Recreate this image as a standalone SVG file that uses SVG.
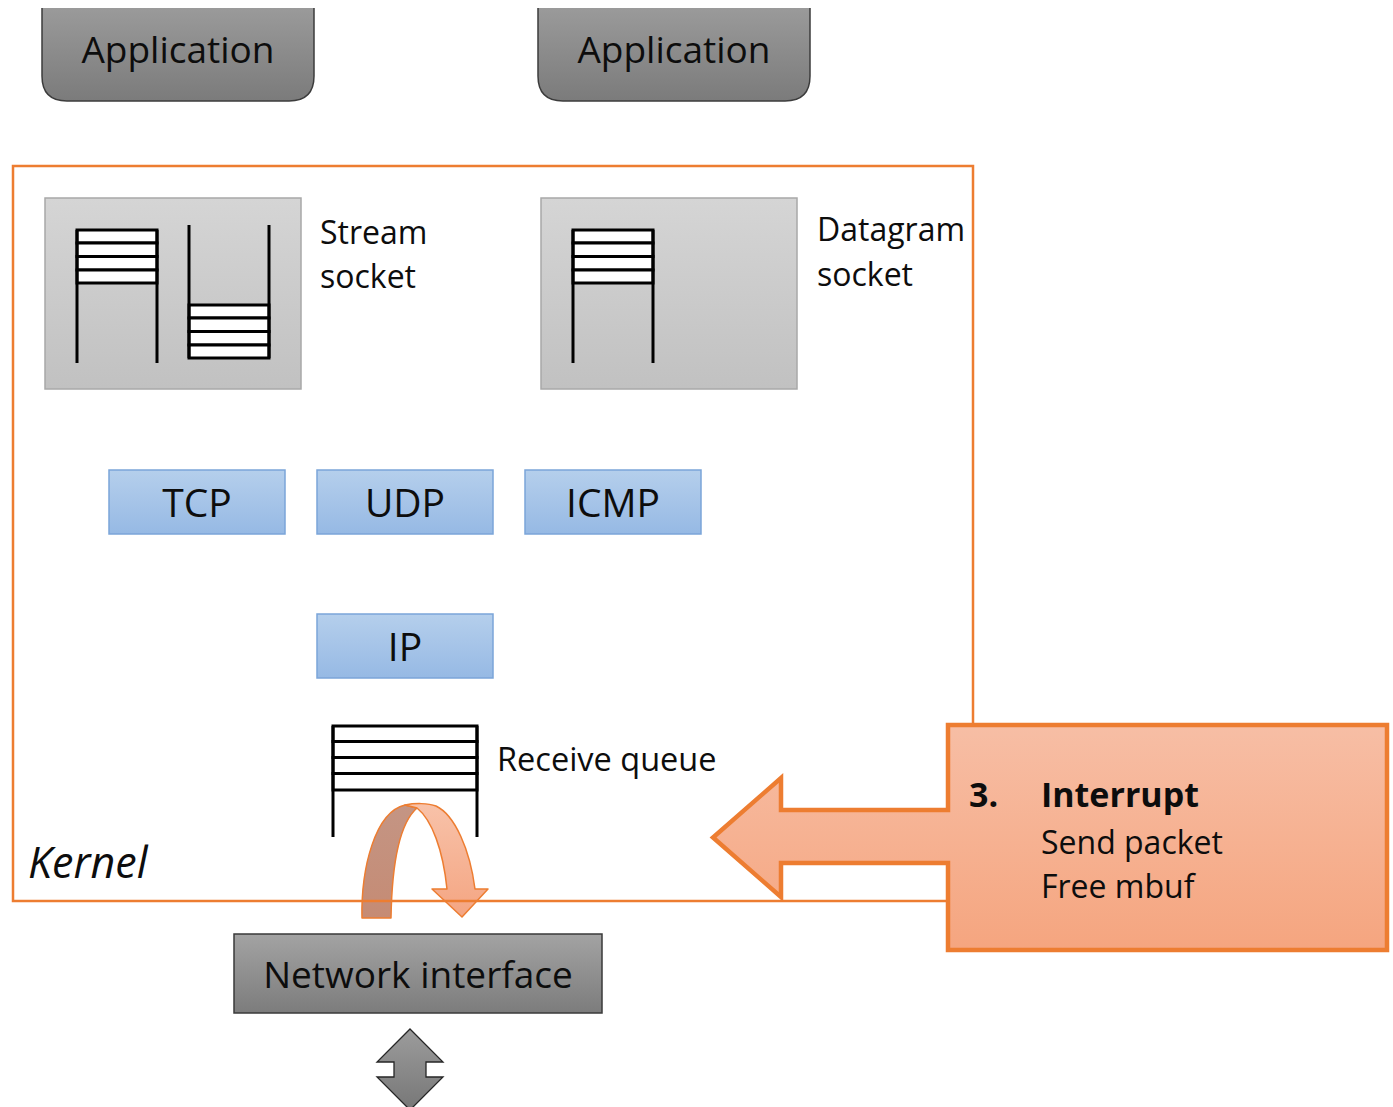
<svg xmlns="http://www.w3.org/2000/svg" width="1393" height="1107" viewBox="0 0 1393 1107">
  <defs>
    <linearGradient id="gApp" x1="0" y1="0" x2="0" y2="1">
      <stop offset="0" stop-color="#9a9a9a"/>
      <stop offset="1" stop-color="#7b7b7b"/>
    </linearGradient>
    <linearGradient id="gSock" x1="0" y1="0" x2="0" y2="1">
      <stop offset="0" stop-color="#d5d5d5"/>
      <stop offset="1" stop-color="#c1c1c1"/>
    </linearGradient>
    <linearGradient id="gProto" x1="0" y1="0" x2="0" y2="1">
      <stop offset="0" stop-color="#b5cfec"/>
      <stop offset="1" stop-color="#96b9e4"/>
    </linearGradient>
    <linearGradient id="gNic" x1="0" y1="0" x2="0" y2="1">
      <stop offset="0" stop-color="#a3a3a3"/>
      <stop offset="1" stop-color="#7c7c7c"/>
    </linearGradient>
    <linearGradient id="gCall" x1="0" y1="0" x2="0" y2="1">
      <stop offset="0" stop-color="#f7bea5"/>
      <stop offset="1" stop-color="#f5a57f"/>
    </linearGradient>
    <linearGradient id="gTurnLight" x1="0" y1="0" x2="0" y2="1">
      <stop offset="0" stop-color="#f8c2a9"/>
      <stop offset="1" stop-color="#f4a582"/>
    </linearGradient>
    <linearGradient id="gTurnDark" x1="0" y1="0" x2="0" y2="1">
      <stop offset="0" stop-color="#c49584"/>
      <stop offset="1" stop-color="#c58b74"/>
    </linearGradient>
    <linearGradient id="gDbl" x1="0" y1="0" x2="0" y2="1">
      <stop offset="0" stop-color="#9c9c9c"/>
      <stop offset="1" stop-color="#777777"/>
    </linearGradient>
  </defs>
  <style>
    text { font-family: "Open Sans", "Noto Sans", "Liberation Sans", sans-serif; fill: #0d0d0d; }
    .app { fill: url(#gApp); stroke: #3c3c3c; stroke-width: 1.5; }
    .sock { fill: url(#gSock); stroke: #a8a8a8; stroke-width: 1.5; }
    .proto { fill: url(#gProto); stroke: #7ba5d9; stroke-width: 1.5; }
    .cell { fill: #ffffff; stroke: #000000; stroke-width: 3; }
    .wall { fill: none; stroke: #000000; stroke-width: 3; }
    .t37 { font-size: 37px; }
    .t39 { font-size: 39px; }
    .t32 { font-size: 32px; }
    .mid { text-anchor: middle; }
  </style>

  <!-- user-space applications -->
  <g id="app-left">
    <path class="app" d="M42,8 V76 Q42,101 67,101 H289 Q314,101 314,76 V8" />
    <text class="t37 mid" x="178" y="63">Application</text>
  </g>
  <g id="app-right">
    <path class="app" d="M538,8 V76 Q538,101 563,101 H785 Q810,101 810,76 V8" />
    <text class="t37 mid" x="674" y="63">Application</text>
  </g>

  <!-- stream socket with send and receive buffers -->
  <g id="stream-socket">
    <rect class="sock" x="45" y="198" width="256" height="191"/>
    <rect class="cell" x="77" y="230" width="80" height="13"/>
    <rect class="cell" x="77" y="243" width="80" height="13.5"/>
    <rect class="cell" x="77" y="256.5" width="80" height="13.5"/>
    <rect class="cell" x="77" y="270" width="80" height="13"/>
    <path class="wall" d="M77,230 V363 M157,230 V363"/>
    <rect class="cell" x="189" y="305" width="80" height="13"/>
    <rect class="cell" x="189" y="318" width="80" height="13.5"/>
    <rect class="cell" x="189" y="331.5" width="80" height="13.5"/>
    <rect class="cell" x="189" y="345" width="80" height="13"/>
    <path class="wall" d="M189,225 V358 M269,225 V358"/>
    <text class="t32" x="320" y="244">Stream</text>
    <text class="t32" x="320" y="288">socket</text>
  </g>

  <!-- datagram socket -->
  <g id="datagram-socket">
    <rect class="sock" x="541" y="198" width="256" height="191"/>
    <rect class="cell" x="573" y="230" width="80" height="13"/>
    <rect class="cell" x="573" y="243" width="80" height="13.5"/>
    <rect class="cell" x="573" y="256.5" width="80" height="13.5"/>
    <rect class="cell" x="573" y="270" width="80" height="13"/>
    <path class="wall" d="M573,230 V363 M653,230 V363"/>
    <text class="t32" x="817" y="241">Datagram</text>
    <text class="t32" x="817" y="286">socket</text>
  </g>

  <!-- protocol layers -->
  <g id="tcp">
    <rect class="proto" x="109" y="470" width="176" height="64"/>
    <text class="t39 mid" x="197" y="517">TCP</text>
  </g>
  <g id="udp">
    <rect class="proto" x="317" y="470" width="176" height="64"/>
    <text class="t39 mid" x="405" y="517">UDP</text>
  </g>
  <g id="icmp">
    <rect class="proto" x="525" y="470" width="176" height="64"/>
    <text class="t39 mid" x="613" y="517">ICMP</text>
  </g>
  <g id="ip">
    <rect class="proto" x="317" y="614" width="176" height="64"/>
    <text class="t39 mid" x="405" y="661">IP</text>
  </g>

  <!-- receive queue -->
  <g id="receive-queue">
    <rect class="cell" x="333" y="726" width="144" height="15.5"/>
    <rect class="cell" x="333" y="741.5" width="144" height="16"/>
    <rect class="cell" x="333" y="757.5" width="144" height="16"/>
    <rect class="cell" x="333" y="773.5" width="144" height="16.5"/>
    <path class="wall" d="M333,726 V837 M477,726 V837"/>
    <text x="497" y="771" font-size="32.5">Receive queue</text>
  </g>

  <!-- connectors -->
  <g id="connectors">
    <g id="u-turn">
      <path d="M362,918 C361,868 375,812 405,805 L417,808 C401,822 392,860 391,918 Z" fill="url(#gTurnDark)" stroke="#ed7d31" stroke-width="1.5" stroke-linejoin="round"/>
      <path d="M405,805 C415,803 428,803 436,806 C455,815 470,850 475,889 L488,889 L462,917 L432,889 L447,889 C443,850 432,820 417,808 Z" fill="url(#gTurnLight)" stroke="#ed7d31" stroke-width="1.5" stroke-linejoin="round"/>
    </g>
    <polygon id="wire" points="410,1029 443,1062 426,1062 426,1077 443,1077 410,1110 377,1077 394,1077 394,1062 377,1062" fill="url(#gDbl)" stroke="#262626" stroke-width="1.3"/>
  </g>

  <!-- kernel boundary -->
  <g id="kernel">
    <rect x="13" y="166" width="960" height="735" fill="none" stroke="#ed7d31" stroke-width="2.5"/>
    <text x="28" y="878" font-size="43" font-style="italic">Kernel</text>
  </g>

  <!-- network interface -->
  <g id="network-interface">
    <rect x="234" y="934" width="368" height="79" fill="url(#gNic)" stroke="#3a3a3a" stroke-width="1.5"/>
    <text class="t37 mid" x="418" y="988">Network interface</text>
  </g>

  <!-- interrupt callout -->
  <g id="interrupt-callout">
    <path d="M948,725 H1387 V950 H948 V863 H781 V897 L713,837.5 L781,778 V810 H948 Z" fill="url(#gCall)" stroke="#ed7d31" stroke-width="4.5" stroke-linejoin="miter"/>
    <text x="969" y="807" font-size="34" font-weight="bold">3.</text>
    <text x="1041" y="807" font-size="34" font-weight="bold">Interrupt</text>
    <text x="1041" y="854" font-size="32">Send packet</text>
    <text x="1041" y="898" font-size="32">Free mbuf</text>
  </g>
</svg>
